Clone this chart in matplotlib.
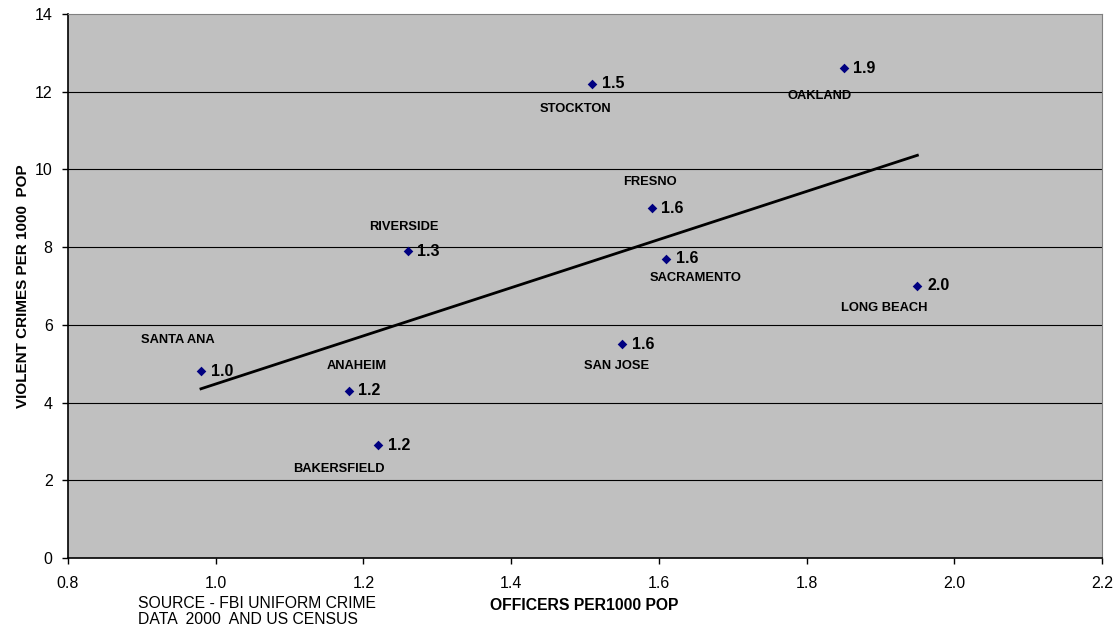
import numpy as np
import matplotlib
matplotlib.use("Agg")
import matplotlib.pyplot as plt

plt.rcParams['font.family'] = ['Liberation Sans', 'DejaVu Sans']

# City data: police officers per 1000 population vs violent crimes per 1000 population
cities = ["SANTA ANA", "ANAHEIM", "BAKERSFIELD", "RIVERSIDE", "STOCKTON",
          "FRESNO", "SACRAMENTO", "SAN JOSE", "OAKLAND", "LONG BEACH"]
officers = [0.98, 1.18, 1.22, 1.26, 1.51, 1.59, 1.61, 1.55, 1.85, 1.95]
crimes = [4.8, 4.3, 2.9, 7.9, 12.2, 9.0, 7.7, 5.5, 12.6, 7.0]
value_labels = ["1.0", "1.2", "1.2", "1.3", "1.5", "1.6", "1.6", "1.6", "1.9", "2.0"]
x_ticks = [0.8, 1.0, 1.2, 1.4, 1.6, 1.8, 2.0, 2.2]
y_ticks = [0, 2, 4, 6, 8, 10, 12, 14]

# Offsets (in points) of each city name relative to its marker
name_offsets = [(-17, 23), (6, 18), (-28, -17), (-3, 17), (-12, -18),
                (-1, 19), (21, -14), (-4, -16), (-17, -20), (-24, -16)]

fig = plt.figure(figsize=(11.17, 6.30), dpi=100)
ax = fig.add_axes([0.0609, 0.1143, 0.9257, 0.8635])
ax.set_facecolor("#C0C0C0")

ax.set_xlim(0.8, 2.2)
ax.set_ylim(0, 14)
ax.set_xticks(x_ticks)
ax.set_xticklabels([f"{t:.1f}" for t in x_ticks])
ax.set_yticks(y_ticks)
ax.tick_params(axis='both', direction='out', length=4, width=1, labelsize=11.5)
ax.tick_params(axis='x', pad=9)
ax.tick_params(axis='y', pad=7)

for yv in y_ticks[1:-1]:
    ax.axhline(yv, color="black", lw=0.8, zorder=1)

ax.spines['left'].set_color("black")
ax.spines['bottom'].set_color("black")
ax.spines['left'].set_linewidth(1.2)
ax.spines['bottom'].set_linewidth(1.2)
ax.spines['top'].set_color("#808080")
ax.spines['right'].set_color("#808080")
ax.spines['top'].set_linewidth(0.8)
ax.spines['right'].set_linewidth(0.8)

ax.scatter(officers, crimes, marker="D", s=24, color="#000080", zorder=3, linewidths=0)

# Linear trend line across the range of the data
xs = np.array(officers)
slope, intercept = np.polyfit(xs, np.array(crimes), 1)
xl = np.array([xs.min(), xs.max()])
ax.plot(xl, slope * xl + intercept, color="black", lw=2, zorder=2)

for x, y, name, val, off in zip(officers, crimes, cities, value_labels, name_offsets):
    ax.annotate(val, (x, y), xytext=(7, 0), textcoords="offset points",
                ha="left", va="center", fontsize=11.5, fontweight="bold", zorder=4)
    ax.annotate(name, (x, y), xytext=off, textcoords="offset points",
                ha="center", va="center", fontsize=9.3, fontweight="bold", zorder=4)

xlab = ax.set_xlabel("OFFICERS PER1000 POP", fontsize=11.3, fontweight="bold")
xlab.set_va("center")
ax.xaxis.set_label_coords(0.499, -0.088)
ylab = ax.set_ylabel("VIOLENT CRIMES PER 1000  POP", fontsize=11, fontweight="bold")
ylab.set_va("center")
ax.yaxis.set_label_coords(-0.0435, 0.5)

fig.text(138 / 1117, 1 - 603 / 630, "SOURCE - FBI UNIFORM CRIME", fontsize=11.3,
         ha="left", va="center")
fig.text(138 / 1117, 1 - 620 / 630, "DATA  2000  AND US CENSUS", fontsize=11.3,
         ha="left", va="center")

fig.savefig("out.png", dpi=100)
